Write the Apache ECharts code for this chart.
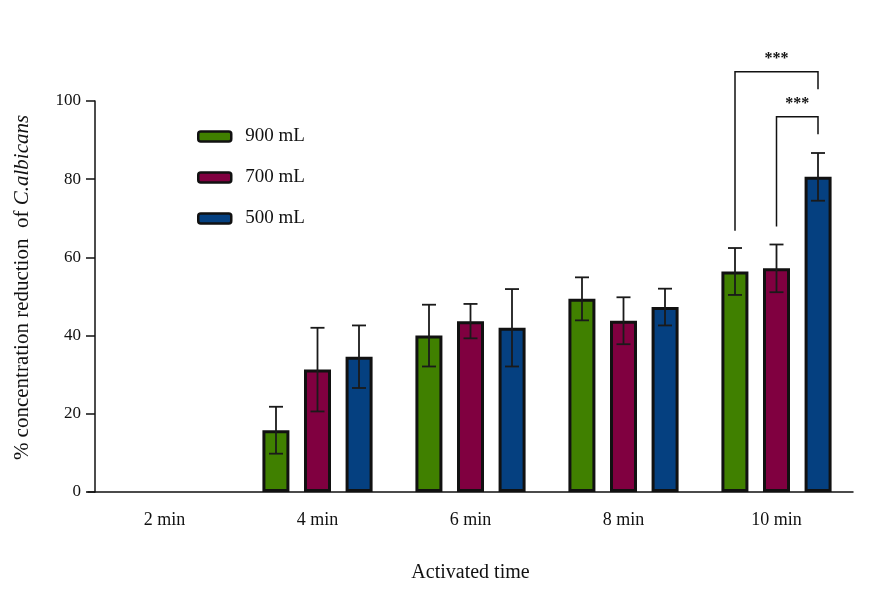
<!DOCTYPE html>
<html>
<head>
<meta charset="utf-8">
<script src="https://cdn.jsdelivr.net/npm/echarts@6/dist/echarts.min.js"></script>
<style>html,body{margin:0;padding:0;background:#fff}#c{width:886px;height:598px}</style>
</head>
<body>
<div id="c"></div>
<script>
const categories = ['2 min', '4 min', '6 min', '8 min', '10 min'];
const seriesNames = ['900 mL', '700 mL', '500 mL'];
const means900 = [null, 15.8, 40.0, 49.4, 56.4];
const sd900 = [null, 6.0, 7.9, 5.5, 6.0];
const means700 = [null, 31.3, 43.7, 43.8, 57.2];
const sd700 = [null, 10.7, 4.4, 6.0, 6.1];
const means500 = [null, 34.6, 42.0, 47.3, 80.6];
const sd500 = [null, 8.0, 9.9, 4.7, 6.1];
const yTicks = [0, 20, 40, 60, 80, 100];

// significance brackets
const bracketCategory = 4; // '10 min'
const bracketFrom = [0, 1];      // series index of left leg
const bracketTo = [2, 2];        // series index of right leg
const bracketTop = [107.5, 96.0];
const bracketFromEnd = [66.8, 67.9];
const bracketToEnd = [103.0, 91.5];
const bracketLabels = ['***', '***'];

const colors = ['#408000', '#800040', '#054080'];
const means = [means900, means700, means500];
const sds = [sd900, sd700, sd500];
const FONT = 'Liberation Serif';
const BAR_W = 27, OFFSET = 41.5;

const chart = echarts.init(document.getElementById('c'));

const barSeries = seriesNames.map((n, i) => ({
  name: n, type: 'bar', data: means[i], barWidth: BAR_W, barGap: '54%',
  itemStyle: { color: colors[i], borderColor: '#111', borderWidth: 3 },
  z: 2
}));

const errSeries = seriesNames.map((n, i) => ({
  type: 'custom', name: n + ' err', z: 5, silent: true,
  data: means[i].map((m, k) => [k, m, sds[i][k]]),
  renderItem: function (params, api) {
    const k = api.value(0), m = api.value(1), s = api.value(2);
    if (m == null || isNaN(m) || s == null || isNaN(s)) return;
    const c = api.coord([k, m]);
    const x = c[0] + (i - 1) * OFFSET;
    const yt = api.coord([k, m + s])[1];
    const yb = api.coord([k, m - s])[1];
    const st = { stroke: '#1a1a1a', lineWidth: 1.8 };
    return { type: 'group', children: [
      { type: 'line', shape: { x1: x, y1: yt, x2: x, y2: yb }, style: st },
      { type: 'line', shape: { x1: x - 7, y1: yt, x2: x + 7, y2: yt }, style: st },
      { type: 'line', shape: { x1: x - 7, y1: yb, x2: x + 7, y2: yb }, style: st }
    ]};
  }
}));

const bracketSeries = {
  type: 'custom', z: 6, silent: true, clip: false,
  data: bracketTop.map((t, j) => [bracketCategory, t, bracketFromEnd[j], bracketToEnd[j], bracketFrom[j], bracketTo[j]]),
  renderItem: function (params, api) {
    const k = api.value(0), top = api.value(1), fe = api.value(2), te = api.value(3);
    const fi = api.value(4), ti = api.value(5);
    const cx = api.coord([k, top])[0];
    const x1 = cx + (fi - 1) * OFFSET, x2 = cx + (ti - 1) * OFFSET;
    const yt = api.coord([k, top])[1];
    const y1 = api.coord([k, fe])[1], y2 = api.coord([k, te])[1];
    const st = { stroke: '#111', lineWidth: 1.5, fill: null };
    return { type: 'group', children: [
      { type: 'polyline', shape: { points: [[x1, y1], [x1, yt], [x2, yt], [x2, y2]] }, style: st },
      { type: 'text', x: (x1 + x2) / 2, y: yt - 13, style: { text: bracketLabels[params.dataIndex], fill: '#111', font: 'bold 16px ' + FONT, align: 'center', verticalAlign: 'middle' } }
    ]};
  }
};

chart.setOption({
  animation: false,
  textStyle: { fontFamily: FONT },
  grid: { left: 88, right: 33, top: 101, bottom: 106 },
  legend: {
    data: seriesNames, orient: 'vertical', left: 192, top: 122,
    itemWidth: 33, itemHeight: 10, itemGap: 22,
    itemStyle: { borderColor: '#111', borderWidth: 2.5 },
    textStyle: { fontFamily: FONT, fontSize: 19, color: '#111', padding: [0, 0, 0, 9], lineHeight: 19 }
  },
  xAxis: {
    type: 'category', data: categories,
    axisLine: { lineStyle: { color: '#111', width: 1.5 } },
    axisTick: { alignWithLabel: true, length: 8, lineStyle: { color: '#111', width: 1.5 } },
    axisLabel: { fontFamily: FONT, fontSize: 18, color: '#111', margin: 19 },
    name: 'Activated time', nameLocation: 'middle', nameGap: 71,
    nameTextStyle: { fontFamily: FONT, fontSize: 20, color: '#111' }
  },
  yAxis: {
    type: 'value', min: 0, max: 100, interval: 20, offset: -7,
    axisLine: { show: true, lineStyle: { color: '#111', width: 1.5 } },
    axisTick: { show: true, length: 9, lineStyle: { color: '#111', width: 1.5 } },
    splitLine: { show: false },
    axisLabel: { fontFamily: FONT, fontSize: 17, color: '#111', margin: 14,
      formatter: v => yTicks.includes(v) ? String(v) : '' },
    name: '{a|% concentration reduction  of }{b|C.albicans}',
    nameLocation: 'middle', nameGap: 62,
    nameTextStyle: { padding: [0, 0, 0, 18], rich: {
      a: { fontFamily: FONT, fontSize: 21, color: '#111' },
      b: { fontFamily: FONT, fontSize: 21, color: '#111', fontStyle: 'italic' }
    } }
  },
  series: [...barSeries, ...errSeries, bracketSeries]
});
</script>
</body>
</html>
